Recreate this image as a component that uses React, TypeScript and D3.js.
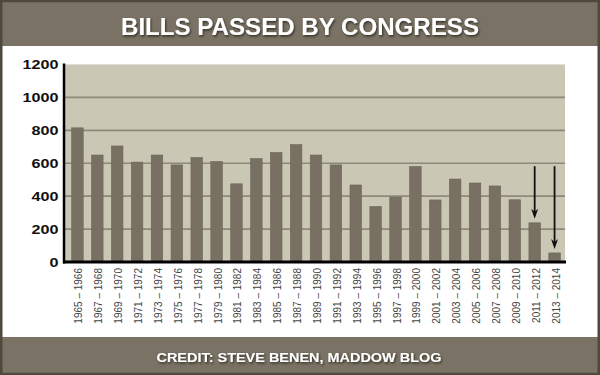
import React from "react";
import * as d3 from "d3";

const congresses = [
  "1965 – 1966", "1967 – 1968", "1969 – 1970", "1971 – 1972", "1973 – 1974",
  "1975 – 1976", "1977 – 1978", "1979 – 1980", "1981 – 1982", "1983 – 1984",
  "1985 – 1986", "1987 – 1988", "1989 – 1990", "1991 – 1992", "1993 – 1994",
  "1995 – 1996", "1997 – 1998", "1999 – 2000", "2001 – 2002", "2003 – 2004",
  "2005 – 2006", "2007 – 2008", "2009 – 2010", "2011 – 2012", "2013 – 2014",
];
const billsPassed = [
  815, 650, 705, 607, 650, 590, 635, 610, 475, 628,
  665, 713, 650, 590, 468, 337, 394, 580, 377, 504,
  480, 462, 378, 238, 55,
];
const yTicks = [0, 200, 400, 600, 800, 1000, 1200];
const arrowedCongresses = ["2011 – 2012", "2013 – 2014"];
const arrowStartValue = 582;
const title = "BILLS PASSED BY CONGRESS";
const credit = "CREDIT: STEVE BENEN, MADDOW BLOG";

const W = 600;
const H = 375;
const BAND = "#7a7264";
const BORDER = "#4e493e";
const PLOT_BG = "#cac7b5";
const BAR = "#787163";
const GRID = "#8e8978";

export default function App() {
  const plotLeft = 64;
  const plotRight = 565;
  const plotTop = 64.5;
  const plotBottom = 262;

  const y = d3.scaleLinear().domain([0, 1200]).range([plotBottom, plotTop]);
  const x = d3.scaleBand<string>().domain(congresses).range([67.5, 564.5]).paddingInner(0.42).paddingOuter(0.21);
  const bw = x.bandwidth();
  const font = "'Liberation Sans', Arial, Helvetica, sans-serif";

  return (
    <svg width={W} height={H} style={{ position: "absolute", left: 0, top: 0 }} fontFamily={font}>
      <defs>
        <filter id="shadow" x="-10%" y="-30%" width="120%" height="160%">
          <feDropShadow dx="1" dy="1.5" stdDeviation="0.8" floodColor="#2a261e" floodOpacity="0.9" />
        </filter>
      </defs>
      <rect x={0} y={0} width={W} height={H} fill="#fff" />
      <rect x={0} y={0} width={W} height={46} fill={BAND} />
      <rect x={0} y={337} width={W} height={H - 337} fill={BAND} />
      <rect x={1.25} y={1} width={W - 2.5} height={H - 2} fill="none" stroke={BORDER} strokeWidth={2.5} />

      <text x={300} y={35} textAnchor="middle" fill="#fff" fontSize={23} fontWeight="bold" textLength={358} lengthAdjust="spacingAndGlyphs" filter="url(#shadow)">
        {title}
      </text>
      <text x={299} y={362} textAnchor="middle" fill="#fff" fontSize={12} fontWeight="bold" textLength={285} lengthAdjust="spacingAndGlyphs" filter="url(#shadow)">
        {credit}
      </text>

      <rect x={plotLeft} y={plotTop} width={plotRight - plotLeft} height={plotBottom - plotTop} fill={PLOT_BG} />
      {yTicks.filter((t) => t > 0).map((t) => (
        <line key={t} x1={plotLeft} x2={plotRight} y1={y(t)} y2={y(t)} stroke={t === 1200 ? "#e2e0d6" : GRID} strokeWidth={t === 1200 ? 1 : 1.6} />
      ))}

      {congresses.map((c, i) => (
        <rect key={c} x={x(c)!} y={y(billsPassed[i])} width={bw} height={plotBottom - y(billsPassed[i])} fill={BAR} stroke="#6c6558" strokeWidth={0.6} />
      ))}

      {arrowedCongresses.map((c) => {
        const i = congresses.indexOf(c);
        const cx = x(c)! + bw / 2;
        const tip = y(billsPassed[i]) - 4;
        return (
          <g key={c}>
            <line x1={cx} x2={cx} y1={y(arrowStartValue)} y2={tip - 5} stroke="#111" strokeWidth={1.8} />
            <path d={`M${cx - 3.5},${tip - 10} L${cx},${tip} L${cx + 3.5},${tip - 10} L${cx},${tip - 7} Z`} fill="#111" />
          </g>
        );
      })}

      <line x1={plotLeft} x2={plotLeft} y1={plotTop - 1} y2={plotBottom + 1.5} stroke="#000" strokeWidth={2.5} />
      <line x1={plotLeft - 1} x2={plotRight + 1} y1={plotBottom} y2={plotBottom} stroke="#000" strokeWidth={3} />

      {yTicks.map((t) => {
        const s = String(t);
        return (
          <text key={t} x={58.5} y={y(t)} dy="0.36em" textAnchor="end" fontSize={12.5} fontWeight="bold" fill="#111" textLength={s.length * 9} lengthAdjust="spacingAndGlyphs">
            {s}
          </text>
        );
      })}

      {congresses.map((c) => {
        const cx = x(c)! + bw / 2 + 1.5;
        return (
          <text key={c} transform={`translate(${cx},268) rotate(-90)`} textAnchor="end" dy="0.35em" fontSize={10} fill="#444">
            {c}
          </text>
        );
      })}
    </svg>
  );
}
